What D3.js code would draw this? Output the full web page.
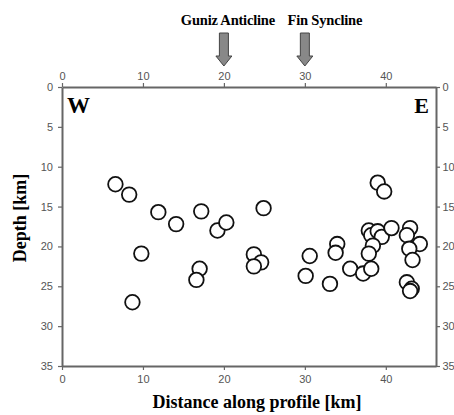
<!DOCTYPE html>
<html><head><meta charset="utf-8">
<script src="https://cdn.jsdelivr.net/npm/d3@7/dist/d3.min.js"></script>
<style>
body{margin:0;background:#fff;}
svg{display:block;}
.tick text{font-family:"Liberation Sans",Arial,sans-serif;font-size:11px;fill:#555;}
.domain,.tick line{stroke:#666;}
</style></head>
<body><svg id="c" width="454" height="415"></svg>
<script>
const distance = [6.6,8.3,11.9,14.1,17.2,19.2,20.3,24.9,9.8,17.0,16.6,8.7,23.7,24.6,23.7,30.6,30.1,33.1,34.0,33.8,35.6,37.2,38.2,37.9,38.2,39.0,39.5,38.4,37.9,40.7,39.0,39.8,43.0,42.6,44.2,42.9,43.3,42.6,43.2,43.0];
const depth    = [12.2,13.5,15.7,17.2,15.6,18.0,17.0,15.2,20.9,22.8,24.2,27.0,21.0,22.0,22.5,21.2,23.7,24.7,19.7,20.8,22.8,23.4,22.8,18.0,18.6,18.1,18.8,19.9,20.9,17.7,12.0,13.1,17.7,18.6,19.7,20.3,21.7,24.5,25.3,25.6];
const xTicks = [0,10,20,30,40];
const yTicks = [0,5,10,15,20,25,30,35];
const markers = [{label:"Guniz Anticline", at:20, dx:4},{label:"Fin Syncline", at:30, dx:20}];

const svg = d3.select("#c");
const x = d3.scaleLinear().domain([0,46.2]).range([62,436]);
const y = d3.scaleLinear().domain([0,35]).range([87,366]);

const axes = svg.append("g");
axes.append("g").attr("transform","translate(0,87)").call(d3.axisTop(x).tickValues(xTicks).tickSize(4).tickSizeOuter(0).tickPadding(3));
axes.append("g").attr("transform","translate(0,366)").call(d3.axisBottom(x).tickValues(xTicks).tickSize(4).tickSizeOuter(0).tickPadding(5));
axes.append("g").attr("transform","translate(62,0)").call(d3.axisLeft(y).tickValues(yTicks).tickSize(4).tickSizeOuter(0).tickPadding(5));
axes.append("g").attr("transform","translate(436,0)").call(d3.axisRight(y).tickValues(yTicks).tickSize(4).tickSizeOuter(0).tickPadding(2.5));
axes.selectAll(".domain").attr("stroke-width",2);
axes.selectAll(".tick line").attr("stroke-width",1.2);

// points
svg.append("g").selectAll("circle").data(distance.map((d,i)=>[d,depth[i]]))
  .join("circle")
  .attr("cx",d=>x(d[0])).attr("cy",d=>y(d[1])).attr("r",7.3)
  .attr("fill","#fff").attr("stroke","#111").attr("stroke-width",1.8);

// corner labels
const serif = '"Liberation Serif","Times New Roman",serif';
svg.append("text").attr("x",67).attr("y",113).attr("font-family",serif).attr("font-weight","bold").attr("font-size",23).text("W");
svg.append("text").attr("x",429).attr("y",113).attr("text-anchor","end").attr("font-family",serif).attr("font-weight","bold").attr("font-size",22).text("E");

// titles
svg.append("text").attr("x",257).attr("y",408).attr("text-anchor","middle").attr("font-family",serif).attr("font-weight","bold").attr("font-size",18).text("Distance along profile [km]");
svg.append("text").attr("transform","translate(26,218) rotate(-90)").attr("text-anchor","middle").attr("font-family",serif).attr("font-weight","bold").attr("font-size",18).text("Depth [km]");

// markers
const mg = svg.append("g").selectAll("g").data(markers).join("g").attr("transform",d=>`translate(${x(d.at)},0)`);
mg.append("path").attr("d","M-4.5,33 L4.5,33 L4.5,56 L8,56 L0,66 L-8,56 L-4.5,56 Z")
  .attr("fill","#888").attr("stroke","#444").attr("stroke-width",1);
mg.append("text").attr("x",d=>d.dx).attr("y",25).attr("text-anchor","middle")
  .attr("font-family",serif).attr("font-weight","bold").attr("font-size",14.5).attr("letter-spacing",-0.2).text(d=>d.label);
</script></body></html>
